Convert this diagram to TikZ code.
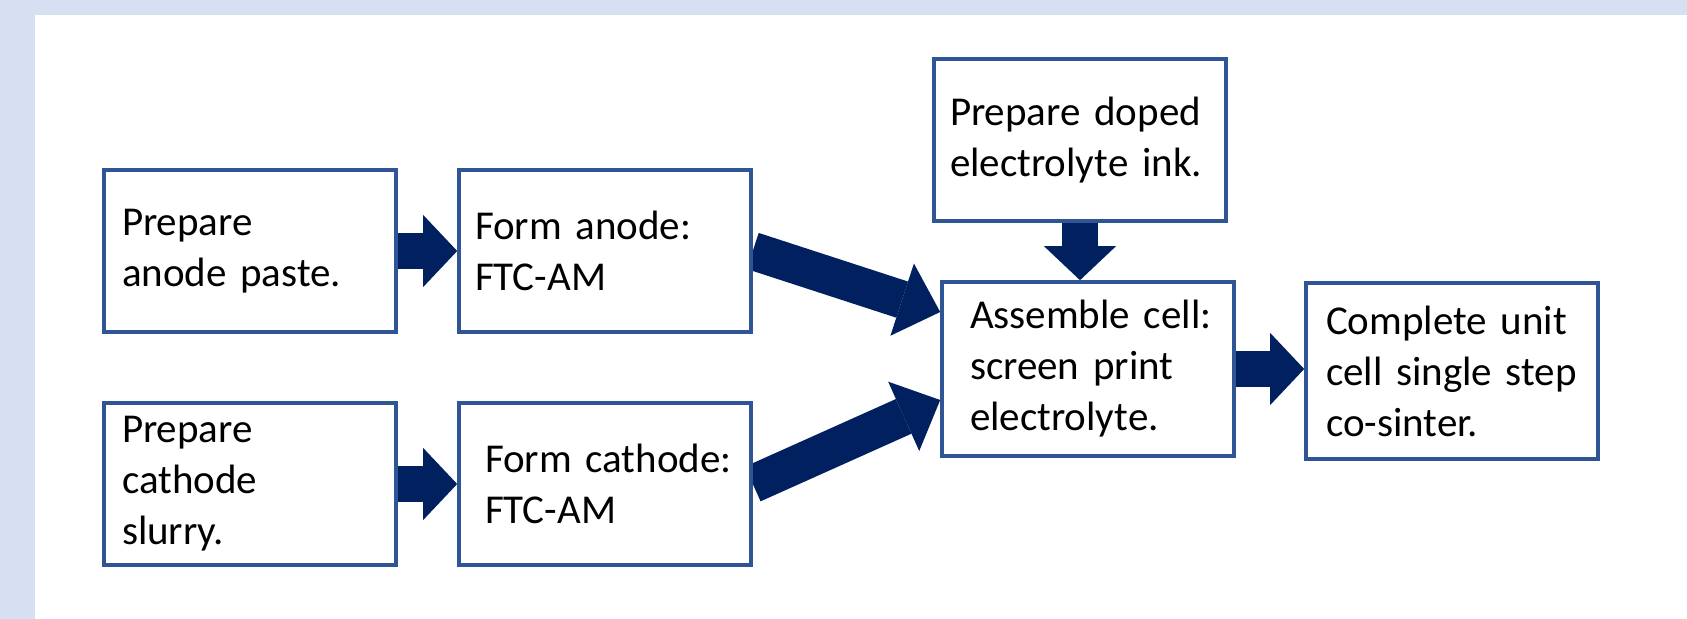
\documentclass[tikz,border=0pt]{standalone}
\usepackage{fontspec}
\setmainfont{Carlito}
\usetikzlibrary{arrows.meta,backgrounds}

\definecolor{boxblue}{HTML}{2F5597}
\definecolor{arrowblue}{HTML}{002060}
\definecolor{pageblue}{HTML}{D6E0F2}

\begin{document}
\begin{tikzpicture}[x=0.5pt,y=-0.5pt,
	stepbox/.style={draw=boxblue, line width=1.8pt, fill=white, align=left,
		minimum width=146pt, minimum height=81pt,
		inner xsep=#1, text width={146pt-2*#1},
		font=\fontsize{20.5pt}{25.5pt}\selectfont,
		execute at begin node={\hyphenpenalty=10000\exhyphenpenalty=10000}},
	flow/.style={arrowblue, line width=18pt,
		-{Triangle[width=36pt,length=17pt,line width=0pt]}},
	bigflow/.style={arrowblue, line width=19pt,
		-{Triangle[width=38pt,length=20pt,line width=0pt]}}]
	%\draw[help lines] (0,0) grid[step=100] (1687,619);
	\useasboundingbox (0,0) rectangle (1687,619);
	
	\node[stepbox=9pt] (anodepaste) at (250,251) {Prepare\\anode~paste.};
	\node[stepbox=8pt] (anodeform) at (605,251) {Form~anode:\\FTC-AM};
	
	\node[stepbox=9pt] (cathodeslurry) at (250,484) {Prepare\\cathode\\slurry.};
	\node[stepbox=13pt] (cathodeform) at (605,484) {Form~cathode:\\FTC-AM};
	
	\node[stepbox=8pt] (ink) at (1080,140) {Prepare~doped\\electrolyte~ink.};
	\node[stepbox=14pt, minimum height=87pt] (assemble) at (1088,369)
		{Assemble~cell:\\screen~print\\electrolyte.};
	\node[stepbox=10pt, minimum height=88pt] (cosinter) at (1452,371)
		{Complete~unit\\cell~single~step\\co-sinter.};
	
	\begin{scope}[on background layer]
		\fill[pageblue] (0,0) rectangle (1687,619);
		\fill[white] (35,15) rectangle (1687,619);
		
		\draw[flow] (anodepaste) -- (anodeform);
		\draw[flow] (cathodeslurry) -- (cathodeform);
		\draw[bigflow] (anodeform.east) -- ([yshift=28.5pt]assemble.west);
		\draw[bigflow] (cathodeform.east) -- ([yshift=-15.5pt]assemble.west);
		\draw[flow] (ink.south) -- (ink.south |- assemble.north);
		\draw[flow] (assemble.east) -- (assemble.east -| cosinter.west);
	\end{scope}
\end{tikzpicture}
\end{document}
